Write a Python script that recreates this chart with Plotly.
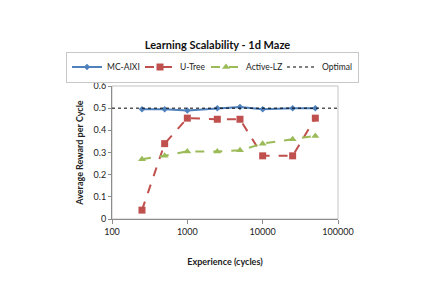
import plotly.graph_objects as go

experience = [250, 500, 1000, 2500, 5000, 10000, 25000, 50000]
mc_aixi = [0.495, 0.495, 0.49, 0.5, 0.505, 0.495, 0.5, 0.5]
u_tree = [0.04, 0.34, 0.455, 0.45, 0.45, 0.285, 0.285, 0.455]
active_lz = [0.27, 0.285, 0.305, 0.305, 0.31, 0.34, 0.36, 0.375]
optimal_x = [100, 100000]
optimal_y = [0.5, 0.5]

font = "Lato, Open Sans, sans-serif"

fig = go.Figure()
fig.add_trace(go.Scatter(x=experience, y=mc_aixi, name="MC-AIXI", mode="lines+markers", legendwidth=28,
                         line=dict(color="#4F81BD", width=2), marker=dict(symbol="diamond", size=5)))
fig.add_trace(go.Scatter(x=experience, y=u_tree, name="U-Tree", mode="lines+markers", legendwidth=21,
                         line=dict(color="#C0504D", width=2, dash="dash"), marker=dict(symbol="square", size=7)))
fig.add_trace(go.Scatter(x=experience, y=active_lz, name="Active-LZ", mode="lines+markers", legendwidth=31,
                         line=dict(color="#9BBB59", width=2, dash="dash"), marker=dict(symbol="triangle-up", size=7)))
fig.add_trace(go.Scatter(x=optimal_x, y=optimal_y, name="Optimal", mode="lines", legendwidth=31,
                         line=dict(color="black", width=1, dash="dot")))

W, H = 419, 294
L, R, T, B = 104, 89, 78, 83
pw, ph = W - L - R, H - T - B

fig.add_shape(type="rect", xref="paper", yref="paper", x0=0, x1=1, y0=0, y1=1,
              line=dict(color="#c4c4c4", width=1), layer="below")

fig.update_layout(
    width=W, height=H,
    margin=dict(l=L, r=R, t=T, b=B, autoexpand=False),
    paper_bgcolor="white", plot_bgcolor="white",
    font=dict(family=font, size=9, color="#222"),
    title=dict(text="<b>Learning Scalability - 1d Maze</b>", x=0.5, xanchor="center", y=1 - 37 / H, yanchor="middle",
               font=dict(size=11, color="#111")),
    showlegend=True,
    legend=dict(orientation="h", x=(58 - L) / pw, xanchor="left", y=1 + (T - 59) / ph, yanchor="middle",
                bordercolor="#c8c8c8", borderwidth=1, font=dict(size=8.5),
                itemwidth=30, tracegroupgap=0),
    xaxis=dict(type="log", range=[2, 5], tickvals=[100, 1000, 10000, 100000],
               ticktext=["100", "1000", "10000", "100000"],
               showgrid=False, showline=True, linecolor="#8c8c8c", ticks="outside", ticklen=4, tickcolor="#8c8c8c",
               title=dict(text="<b>Experience (cycles)</b>", font=dict(size=9), standoff=22), zeroline=False),
    yaxis=dict(range=[0, 0.6], tickvals=[0, 0.1, 0.2, 0.3, 0.4, 0.5, 0.6],
               ticktext=["0", "0.1", "0.2", "0.3", "0.4", "0.5", "0.6"],
               showgrid=False, showline=True, linecolor="#8c8c8c", ticks="outside", ticklen=3, tickcolor="#8c8c8c",
               title=dict(text="<b>Average Reward per Cycle</b>", font=dict(size=9), standoff=8), zeroline=False),
)

fig.write_html("out.html")
